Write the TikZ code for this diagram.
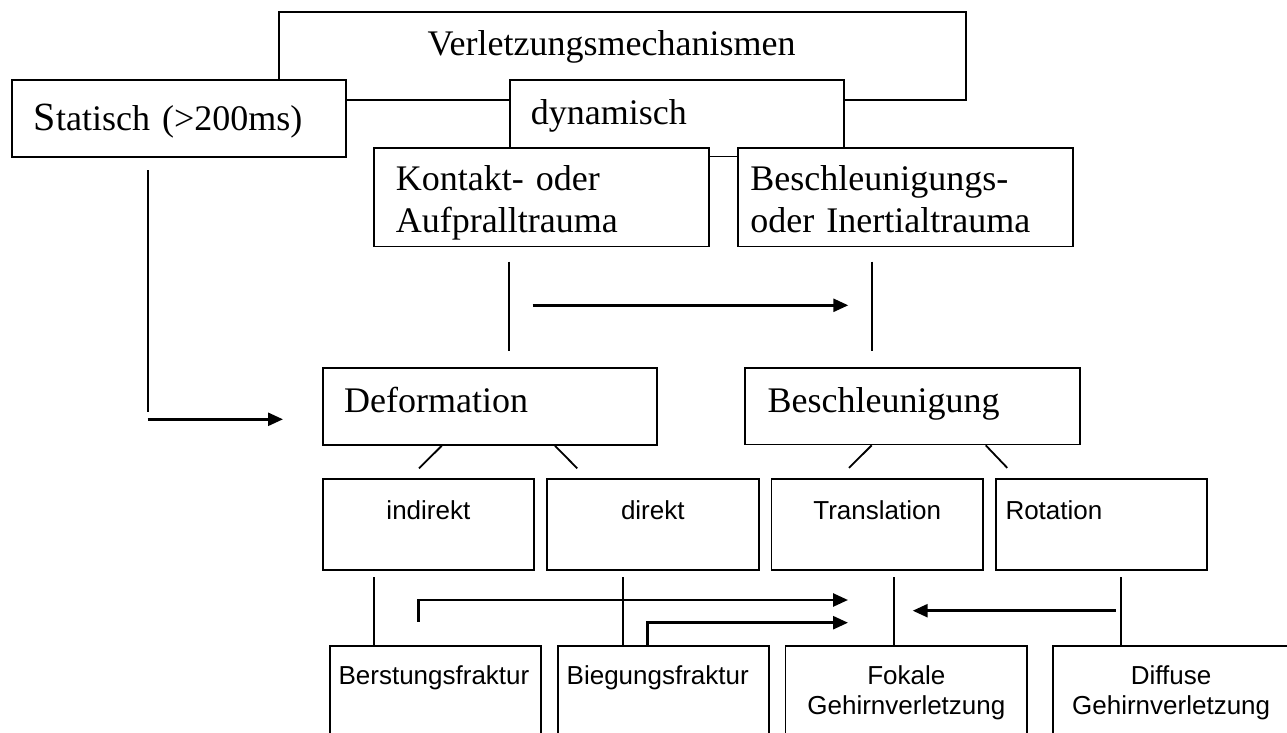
\documentclass[tikz,border=0pt]{standalone}
\usepackage{fontspec}
\setmainfont{Liberation Serif}
\newfontfamily\arialfont{Liberation Sans}
\usetikzlibrary{arrows.meta,positioning,calc}
\newcommand\tnr{\fontsize{36}{41.2}\selectfont}
\newcommand\ari{\arialfont\fontsize{26}{30}\selectfont}
\hyphenpenalty=10000
\begin{document}
\begin{tikzpicture}[% styles for all boxes, sizes are taken from the scan (1pt = 1px)
    x=1pt, y=-1pt,
    every node/.style={
      draw, fill=white, line width=1.8pt,
      anchor=north west,	% boxes are placed by their upper left corner
      inner ysep=0pt, align=left
    },
    serif/.style={font=\tnr},
    sans/.style={font=\ari},
    midrow/.style={sans, align=center, inner xsep=5pt, text width=201.6pt, text height=40.7pt, text depth=50.3pt},
    lowrow/.style={sans, inner xsep=9pt, text height=38.3pt, text depth=76.7pt},
    line/.style={line width=1.8pt},
    arr/.style={line width=2.6pt, -{Triangle[length=15pt,width=13pt]}}
  ]
  \useasboundingbox (0,0) rectangle (1287,733);
  % upper part, the later boxes cover the earlier ones
  \node[serif, inner xsep=149pt, text width=389.3pt, text height=43.3pt, text depth=45pt] (Verl) at (277.7,11) {Verletzungsmechanismen};
  \node[serif, inner xsep=22pt, text width=290pt, text height=50.3pt, text depth=26.7pt] (Stat) at (11,79) {{\fontsize{40}{44}\selectfont S}tatisch (>200ms)};
  \node[serif, inner xsep=20.7pt, text width=292.6pt, text height=44.3pt, text depth=32.2pt] (Dyn) at (509.3,79) {dynamisch};
  \node[serif, inner xsep=21.7pt, text width=291pt, text height=42.7pt, text depth=55.5pt] (Kont) at (373.3,147.3) {Kontakt- oder\\Aufpralltrauma};
  \node[serif, inner xsep=12.7pt, text width=309.6pt, text height=42.7pt, text depth=55.5pt] (Iner) [right=27.3pt of Kont.north east, anchor=north west] {Beschleunigungs-\\oder Inertialtrauma};
  \node[serif, inner xsep=21.6pt, text width=291.1pt, text height=45pt, text depth=32.3pt] (Def) at (321.7,366.7) {Deformation};
  \node[serif, inner xsep=22.4pt, text width=289.9pt, text height=45pt, text depth=31.8pt] (Beschl) at (744.3,366.7) {Beschleunigung};
  % middle row
  \node[midrow] (Ind) at (321.7,478.3) {indirekt};
  \node[midrow] (Dir) [right=11pt of Ind.north east, anchor=north west] {direkt};
  \node[midrow] (Trans) [right=11pt of Dir.north east, anchor=north west] {Translation};
  \node[midrow, align=left, inner xsep=9.7pt, text width=192pt] (Rot) [right=11pt of Trans.north east, anchor=north west] {Rotation};
  % lower row, cut off by the page
  \node[lowrow, text width=193.3pt] (Berst) at (328.7,645) {Berstungsfraktur};
  \node[lowrow, text width=193pt] (Bieg) [right=15pt of Berst.north east, anchor=north west] {Biegungsfraktur};
  \node[lowrow, align=center, inner xsep=5pt, text width=231.7pt] (Fok) [right=15pt of Bieg.north east, anchor=north west] {Fokale\\Gehirnverletzung};
  \node[lowrow, align=center, inner xsep=5pt, text width=226.3pt] (Diff) [right=24pt of Fok.north east, anchor=north west] {Diffuse\\Gehirnverletzung};
  % free ends of the connectors
  \coordinate (sv) at (147.7,170);
  \coordinate (sa) at (147.7,419.3);
  \coordinate (kv) at (509,261.7);
  \coordinate (ka) at (532.5,305.3);
  \coordinate (iv) at (872.3,261.7);
  \coordinate (ia) at (848.3,305.3);
  \coordinate (v1) at (373.9,577);
  \coordinate (v2) at (622.6,577);
  \coordinate (v3) at (894.3,577);
  \coordinate (v4) at (1120.7,577);
  \coordinate (ba) at (418.6,621.7);
  \coordinate (ft) at (848,600);
  \coordinate (ft2) at (848,622.7);
  \coordinate (ra) at (1115.7,610.7);
  \coordinate (rt) at (912.7,610.7);
  \draw[line] (sv) -- ++(0,241.7);
  \draw[arr] (sa) -- ([xshift=-38.7pt]Def.west |- sa);
  \draw[line] (kv) -- ++(0,89);
  \draw[arr] (ka) -- (ia);
  \draw[line] (iv) -- ++(0,89);
  \draw[line] ([xshift=120pt]Def.south west) -- ++(-22.7,22.6);
  \draw[line] ([xshift=233.3pt]Def.south west) -- ++(22.3,22.6);
  \draw[line] ([xshift=127.4pt]Beschl.south west) -- ++(-22.7,22.6);
  \draw[line] ([xshift=241.4pt]Beschl.south west) -- ++(21.6,22.6);
  \draw[line] (v1) -- (v1 |- Berst.north);
  \draw[line] (v2) -- (v2 |- Bieg.north);
  \draw[line] (v3) -- (v3 |- Fok.north);
  \draw[line] (v4) -- (v4 |- Diff.north);
  \draw[arr] (ba) |- (ft);
  \draw[arr] ([xshift=90.6pt]Bieg.north west) |- (ft2);
  \draw[arr] (ra) -- (rt);
\end{tikzpicture}
\end{document}
